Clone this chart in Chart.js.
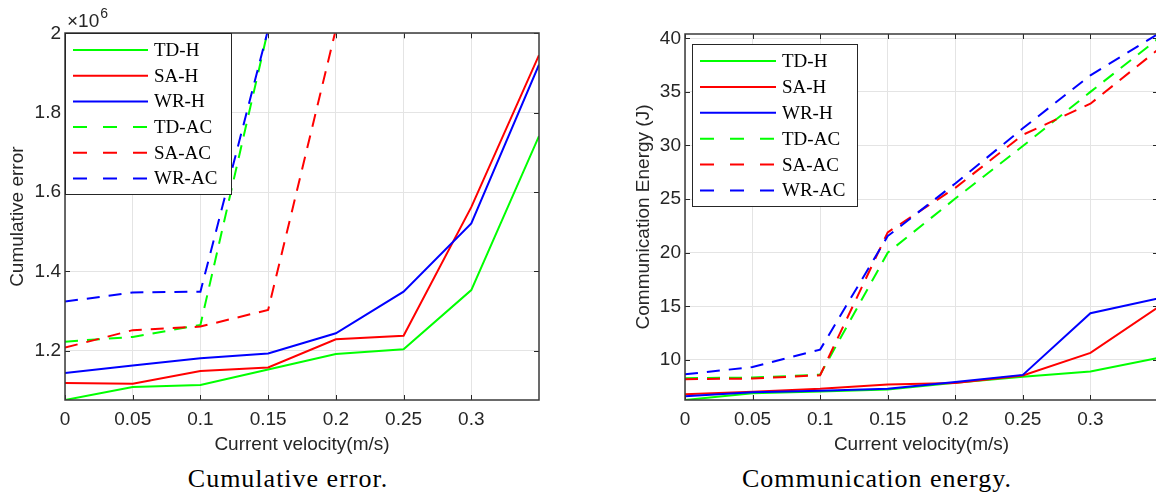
<!DOCTYPE html>
<html>
<head>
<meta charset="utf-8">
<script src="https://cdn.jsdelivr.net/npm/chart.js@4.4.1/dist/chart.umd.min.js"></script>
<style>
  html, body { margin: 0; padding: 0; background: #fff; overflow: hidden; }
  body { width: 1156px; height: 496px; position: relative; }
  canvas { position: absolute; top: 0; }
  #errorChart { left: 0; }
  #energyChart { left: 620px; }
  .caption {
    position: absolute;
    top: 464px;
    font: 26px "Liberation Serif", "Times New Roman", serif;
    letter-spacing: 1px;
    line-height: 30px;
    text-align: center;
    color: #000;
  }
</style>
</head>
<body>
<canvas id="errorChart" width="578" height="460"></canvas>
<canvas id="energyChart" width="560" height="460"></canvas>
<div class="caption" style="left: 0; width: 576px;">Cumulative error.</div>
<div class="caption" style="left: 677px; width: 400px;">Communication energy.</div>
<script>
// x axis: current velocity (m/s)
const VELOCITY = [0, 0.05, 0.1, 0.15, 0.2, 0.25, 0.3, 0.35];
const VELOCITY_TICKS = [0, 0.05, 0.1, 0.15, 0.2, 0.25, 0.3];

const SERIES_NAMES = ['TD-H', 'SA-H', 'WR-H', 'TD-AC', 'SA-AC', 'WR-AC'];
const SERIES_COLORS = ['#00ff00', '#ff0000', '#0000ff', '#00ff00', '#ff0000', '#0000ff'];

// cumulative error, in units of 10^6 (values above 2 leave the plot)
const ERR_TD_H = [1.076, 1.109, 1.114, 1.153, 1.192, 1.204, 1.353, 1.741];
const ERR_SA_H = [1.119, 1.117, 1.149, 1.158, 1.229, 1.238, 1.562, 1.945];
const ERR_WR_H = [1.144, 1.163, 1.181, 1.193, 1.244, 1.349, 1.521, 1.921];
const ERR_TD_AC = [1.223, 1.235, 1.265, 2.01, null, null, null, null];
const ERR_SA_AC = [1.208, 1.252, 1.261, 1.303, 2.01, null, null, null];
const ERR_WR_AC = [1.324, 1.347, 1.349, 2.01, null, null, null, null];
const ERR_TICKS = [1.2, 1.4, 1.6, 1.8, 2];
const ERR_MAX = 2;

// communication energy (J)
const EN_TD_H = [6.26, 6.9, 7.05, 7.25, 7.88, 8.44, 8.92, 10.19];
const EN_SA_H = [6.8, 7.04, 7.3, 7.7, 7.85, 8.54, 10.65, 14.9];
const EN_WR_H = [6.6, 6.98, 7.12, 7.3, 7.95, 8.6, 14.36, 15.73];
const EN_TD_AC = [8.3, 8.35, 8.62, 20.0, 25.05, 29.95, 35.0, 39.95];
const EN_SA_AC = [8.2, 8.26, 8.57, 21.9, 26.05, 31.0, 33.9, 38.95];
const EN_WR_AC = [8.66, 9.33, 10.96, 21.55, 26.46, 31.6, 36.55, 40.4];
const EN_TICKS = [10, 15, 20, 25, 30, 35, 40];

Chart.defaults.font.family = '"Liberation Sans", Arial, sans-serif';
Chart.defaults.color = '#262626';

const INK = '#262626';
const GRID = '#e4e4e4';

const buildDatasets = (seriesList) =>
  seriesList.map((values, i) => ({
    label: SERIES_NAMES[i],
    data: values.map((v, k) => ({ x: VELOCITY[k], y: v })),
    borderColor: SERIES_COLORS[i],
    backgroundColor: SERIES_COLORS[i],
    borderWidth: 2,
    borderDash: i >= 3 ? [13, 9] : [],
    pointRadius: 0,
    tension: 0,
    fill: false,
    clip: 0,
    order: seriesList.length - i,
  }));

// MATLAB-like box: inward ticks on all sides, legend box, exponent label
const matlabAxes = {
  id: 'matlabAxes',
  afterDatasetsDraw(chart, args, opts) {
    const { ctx, chartArea: a, scales: { x, y } } = chart;
    ctx.save();
    ctx.strokeStyle = INK;
    ctx.lineWidth = 1;
    ctx.beginPath();
    x.ticks.forEach((t) => {
      const px = Math.round(x.getPixelForValue(t.value)) + 0.5;
      ctx.moveTo(px, a.bottom); ctx.lineTo(px, a.bottom - 5);
      ctx.moveTo(px, a.top); ctx.lineTo(px, a.top + 5);
    });
    y.ticks.forEach((t) => {
      const py = Math.round(y.getPixelForValue(t.value)) + 0.5;
      ctx.moveTo(a.left, py); ctx.lineTo(a.left + 5, py);
      ctx.moveTo(a.right, py); ctx.lineTo(a.right - 5, py);
    });
    ctx.stroke();
    ctx.lineWidth = 1.5;
    ctx.strokeStyle = '#3a3a3a';
    ctx.strokeRect(Math.round(a.left), Math.round(a.top), Math.round(a.width), Math.round(a.height));

    if (opts.exponent) {
      ctx.fillStyle = INK;
      ctx.textBaseline = 'alphabetic';
      ctx.textAlign = 'left';
      ctx.font = '19px "Liberation Sans", Arial, sans-serif';
      const base = '\u00d710';
      ctx.fillText(base, a.left + 2, a.top - 6);
      const w = ctx.measureText(base).width;
      ctx.font = '14px "Liberation Sans", Arial, sans-serif';
      ctx.fillText(opts.exponent, a.left + 3 + w, a.top - 15);
    }

    const lg = opts.legend;
    ctx.fillStyle = '#fff';
    ctx.fillRect(lg.x, lg.y, lg.w, lg.h);
    ctx.strokeStyle = INK;
    ctx.lineWidth = 1;
    ctx.strokeRect(lg.x + 0.5, lg.y + 0.5, lg.w, lg.h);
    ctx.font = '19px "Liberation Serif", "Times New Roman", serif';
    ctx.textBaseline = 'middle';
    chart.data.datasets.forEach((ds, i) => {
      const ry = lg.y + lg.row0 + i * lg.rowH;
      ctx.strokeStyle = ds.borderColor;
      ctx.lineWidth = 2;
      ctx.setLineDash(ds.borderDash.length ? [14, 16] : []);
      ctx.beginPath();
      ctx.moveTo(lg.x + lg.line0, ry);
      ctx.lineTo(lg.x + lg.line1, ry);
      ctx.stroke();
      ctx.setLineDash([]);
      ctx.fillStyle = '#000';
      ctx.fillText(ds.label, lg.x + lg.text, ry + 1);
    });
    ctx.restore();
  },
};

const makeChart = (id, seriesList, yMin, yMax, yTicks, yTitle, yTitlePad, padRight, padTop, pluginOpts) => {
  new Chart(document.getElementById(id), {
    type: 'line',
    data: { datasets: buildDatasets(seriesList) },
    plugins: [matlabAxes],
    options: {
      responsive: false,
      animation: false,
      devicePixelRatio: 1,
      layout: { padding: { left: 0, right: padRight, top: padTop, bottom: 0 } },
      scales: {
        x: {
          type: 'linear',
          min: VELOCITY[0],
          max: VELOCITY[VELOCITY.length - 1],
          afterBuildTicks: (scale) => { scale.ticks = VELOCITY_TICKS.map((v) => ({ value: v })); },
          afterFit: (scale) => { scale.height = 60; },
          ticks: {
            padding: 8,
            maxRotation: 0,
            autoSkip: false,
            font: { size: 19 },
            color: INK,
            callback: (v) => String(v),
          },
          grid: { color: GRID, drawTicks: false },
          border: { display: false },
          title: {
            display: true,
            text: 'Current velocity(m/s)',
            font: { size: 19 },
            color: INK,
            padding: { top: 0, bottom: 3.6 },
          },
        },
        y: {
          type: 'linear',
          min: yMin,
          max: yMax,
          afterBuildTicks: (scale) => { scale.ticks = yTicks.map((v) => ({ value: v })); },
          afterFit: (scale) => { scale.width = 65; },
          ticks: {
            padding: 4,
            autoSkip: false,
            font: { size: 19 },
            color: INK,
            callback: (v) => String(v),
          },
          grid: { color: GRID, drawTicks: false },
          border: { display: false },
          title: {
            display: true,
            text: yTitle,
            font: { size: 19 },
            color: INK,
            padding: { top: yTitlePad, bottom: 0 },
          },
        },
      },
      plugins: {
        legend: { display: false },
        tooltip: { enabled: false },
        matlabAxes: pluginOpts,
      },
    },
  });
};

const errSeries = [ERR_TD_H, ERR_SA_H, ERR_WR_H, ERR_TD_AC, ERR_SA_AC, ERR_WR_AC];
const errMin = Math.min(...errSeries.flat().filter((v) => v !== null));
makeChart('errorChart', errSeries, errMin, ERR_MAX, ERR_TICKS, 'Cumulative error', 6, 39, 33.3, {
  exponent: '6',
  legend: { x: 65, y: 33, w: 166, h: 161, row0: 17, rowH: 25.7, line0: 8, line1: 83, text: 89 },
});

const enSeries = [EN_TD_H, EN_SA_H, EN_WR_H, EN_TD_AC, EN_SA_AC, EN_WR_AC];
const enAll = enSeries.flat();
makeChart('energyChart', enSeries, Math.min(...enAll), Math.max(...enAll), EN_TICKS, 'Communication Energy (J)', 12.6, 22, 34, {
  legend: { x: 72, y: 44, w: 165, h: 162, row0: 17, rowH: 25.9, line0: 8, line1: 84, text: 90 },
});
</script>
</body>
</html>
